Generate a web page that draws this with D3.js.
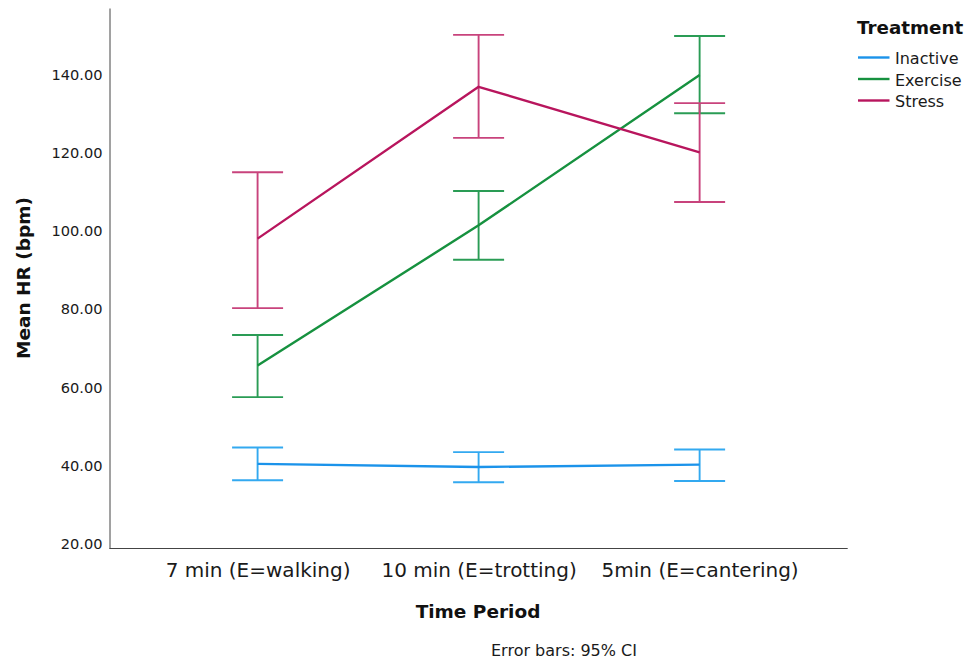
<!DOCTYPE html>
<html>
<head>
<meta charset="utf-8">
<script src="https://cdn.jsdelivr.net/npm/d3@7"></script>
<style>
    body { margin: 0; background: #fff; }
</style>
</head>
<body>
<div id="output"></div>
<script>
// values
const periods = ["7 min (E=walking)", "10 min (E=trotting)", "5min (E=cantering)"];
const treatments = ["Inactive", "Exercise", "Stress"];
const inactiveMean = [40.4, 39.6, 40.2];
const inactiveLow = [36.2, 35.7, 36.0];
const inactiveHigh = [44.6, 43.4, 44.1];
const exerciseMean = [65.6, 101.5, 140.0];
const exerciseLow = [57.5, 92.7, 130.2];
const exerciseHigh = [73.4, 110.3, 150.0];
const stressMean = [98.1, 137.0, 120.2];
const stressLow = [80.3, 123.9, 107.5];
const stressHigh = [115.1, 150.3, 132.8];
const yTicks = [20, 40, 60, 80, 100, 120, 140];

const lineColors = ["#1b93ea", "#16913f", "#b8155d"];
const barColors = ["#33a9f0", "#2a9c55", "#c8437c"];
const axisColor = "#444";

const W = 973, H = 663;
const svg = d3.select("#output").append("svg").attr("width", W).attr("height", H);

const x = d3.scalePoint().domain(periods).range([109.5, 847.7]).padding(0.67);
const y = d3.scaleLinear().domain([18.72, 157.18]).range([548.5, 8]);

const series = [
    { name: treatments[0], mean: inactiveMean, low: inactiveLow, high: inactiveHigh },
    { name: treatments[1], mean: exerciseMean, low: exerciseLow, high: exerciseHigh },
    { name: treatments[2], mean: stressMean, low: stressLow, high: stressHigh }
];

// axes
const yAxis = d3.axisLeft(y).tickValues(yTicks).tickFormat(d3.format(".2f")).tickSize(0).tickPadding(7);
const gy = svg.append("g").attr("transform", "translate(109.5,0)").call(yAxis);
gy.select(".domain").attr("stroke", axisColor);
gy.selectAll("text")
    .style("font-family", "DejaVu Sans")
    .style("font-size", "14.6px")
    .style("fill", "#1a1a1a");

const xAxis = d3.axisBottom(x).tickSize(0).tickPadding(14);
const gx = svg.append("g").attr("transform", "translate(0,548.5)").call(xAxis);
gx.select(".domain").attr("stroke", axisColor).attr("d", "M109.5,0H847.7");
gx.selectAll("text")
    .style("font-family", "DejaVu Sans")
    .style("font-size", "20px")
    .style("fill", "#1a1a1a");

// error bars then lines
const cap = 25.5;
series.forEach((s, i) => {
    const g = svg.append("g");
    periods.forEach((p, j) => {
        const cx = x(p);
        g.append("line")
            .attr("x1", cx).attr("x2", cx)
            .attr("y1", y(s.low[j])).attr("y2", y(s.high[j]))
            .style("stroke", barColors[i]).style("stroke-width", 1.9);
        g.append("line")
            .attr("x1", cx - cap).attr("x2", cx + cap)
            .attr("y1", y(s.low[j])).attr("y2", y(s.low[j]))
            .style("stroke", barColors[i]).style("stroke-width", 1.9);
        g.append("line")
            .attr("x1", cx - cap).attr("x2", cx + cap)
            .attr("y1", y(s.high[j])).attr("y2", y(s.high[j]))
            .style("stroke", barColors[i]).style("stroke-width", 1.9);
    });
});

series.forEach((s, i) => {
    const line = d3.line().x((d, j) => x(periods[j])).y(d => y(d));
    svg.append("path")
        .attr("d", line(s.mean))
        .style("fill", "none")
        .style("stroke", lineColors[i])
        .style("stroke-width", 2.4)
        .style("stroke-linejoin", "round");
});

// axis titles
svg.append("text")
    .attr("transform", "translate(30,278) rotate(-90)")
    .style("font-family", "DejaVu Sans")
    .style("font-weight", "bold")
    .style("font-size", "18.5px")
    .style("text-anchor", "middle")
    .style("fill", "#111")
    .text("Mean HR (bpm)");

svg.append("text")
    .attr("x", 478).attr("y", 618)
    .style("font-family", "DejaVu Sans")
    .style("font-weight", "bold")
    .style("font-size", "18.5px")
    .style("text-anchor", "middle")
    .style("fill", "#111")
    .text("Time Period");

svg.append("text")
    .attr("x", 564).attr("y", 656)
    .style("font-family", "DejaVu Sans")
    .style("font-size", "16px")
    .style("text-anchor", "middle")
    .style("fill", "#1a1a1a")
    .text("Error bars: 95% CI");

// legend
const lg = svg.append("g");
lg.append("text")
    .attr("x", 857).attr("y", 34)
    .style("font-family", "DejaVu Sans")
    .style("font-weight", "bold")
    .style("font-size", "18.3px")
    .style("fill", "#111")
    .text("Treatment");
treatments.forEach((t, i) => {
    const ly = 57.5 + i * 21.5;
    lg.append("line")
        .attr("x1", 858).attr("x2", 889.5)
        .attr("y1", ly).attr("y2", ly)
        .style("stroke", lineColors[i]).style("stroke-width", 2.4);
    lg.append("text")
        .attr("x", 895).attr("y", ly + 6.5)
        .style("font-family", "DejaVu Sans")
        .style("font-size", "16px")
        .style("fill", "#1a1a1a")
        .text(t);
});
</script>
</body>
</html>
